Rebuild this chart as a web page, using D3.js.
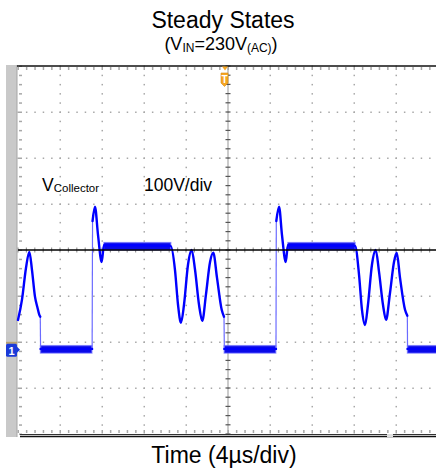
<!DOCTYPE html>
<html>
<head>
<meta charset="utf-8">
<script src="https://cdn.jsdelivr.net/npm/d3@7"></script>
<style>
  body { margin: 0; background: #fff; }
  svg { display: block; }
  text { font-family: "Liberation Sans", Arial, sans-serif; fill: #000; }
</style>
</head>
<body>
<svg id="scope" width="436" height="470"></svg>
<script>
// screen setup (scope graticule)
const usPerDiv = 4;
const voltsPerDiv = 100;
const xDivs = 10;
const yDivs = 8;
const groundDiv = -2.17; // channel 1 marker, in divisions from centre

// V_collector trace: time in µs (trigger = 0), volts
const traceTime = [
  -20, -19.62, -19.24, -18.92, -18.67, -18.38, -18.16, -17.97, -17.88, -17.85,
  -12.97, -12.94, -12.9, -12.67, -12.38, -12.03, -11.81, -5.46,
  -5.05, -4.76, -4.48, -4.19, -3.81, -3.46, -3.14, -2.76, -2.45, -2.1, -1.71, -1.4,
  -1.05, -0.6, -0.38, -0.35,
  4.54, 4.57, 4.6, 4.86, 5.14, 5.5, 5.71, 12.1,
  12.48, 12.76, 13.05, 13.33, 13.71, 14.07, 14.38, 14.76, 15.05, 15.43, 15.81, 16.07,
  16.38, 16.86, 17.08, 17.1, 20
];
const traceVolt = [
  65, 109, 178, 213, 174, 115, 93, 76, 72, 2,
  2, 2, 280, 311, 250, 191, 228, 226,
  174, 98, 59, 98, 185, 217, 174, 98, 63, 120, 191, 211,
  157, 87, 72, 2,
  2, 2, 280, 311, 250, 191, 228, 226,
  163, 87, 54, 98, 185, 217, 170, 98, 65, 124, 191, 211,
  157, 87, 74, 2, 2
];

// noisy flat parts of the trace (µs start/end, volts low/high)
const bandStart = [-17.85, -11.81, -0.35, 5.71, 17.1];
const bandEnd   = [-12.97, -5.46, 4.54, 12.1, 20];
const bandLow   = [-7, 217, -7, 217, -7];
const bandHigh  = [9, 233, 9, 233, 9];

const bands = bandStart.map((s, i) => ({ s: s, e: bandEnd[i], lo: bandLow[i], hi: bandHigh[i] }));
const trace = traceTime.map((t, i) => ({ t: t, v: traceVolt[i] }));

// split the trace at the fast switching edges (drawn thin, like on the scope)
const pieces = [[trace[0]]];
const edges = [];
for (let i = 1; i < trace.length; i++) {
    const a = trace[i - 1], b = trace[i];
    if (b.t - a.t < 0.05 && Math.abs(b.v - a.v) > 50) {
        edges.push([a, b]);
        pieces.push([b]);
    } else {
        pieces[pieces.length - 1].push(b);
    }
}

const svg = d3.select('#scope');
const plotLeft = 18, plotRight = 438, plotTop = 66, plotBottom = 434;

const x = d3.scaleLinear()
    .domain([-xDivs / 2 * usPerDiv, xDivs / 2 * usPerDiv])
    .range([plotLeft, plotRight]);
const y = d3.scaleLinear()
    .domain([(-yDivs / 2 - groundDiv) * voltsPerDiv, (yDivs / 2 - groundDiv) * voltsPerDiv])
    .range([plotBottom, plotTop]);

const xStep = (plotRight - plotLeft) / xDivs;
const yStep = (plotBottom - plotTop) / yDivs;

// left grey bar
svg.append('rect').attr('x', 6).attr('y', 65).attr('width', 11).attr('height', 372).attr('fill', '#c9c9c9');
svg.append('line').attr('x1', 17).attr('x2', 17).attr('y1', 65).attr('y2', 437).attr('stroke', '#a5a5a5');

// dotted grid
const grid = svg.append('g');
d3.range(1, xDivs).filter(k => k !== xDivs / 2).forEach(k => {
    grid.selectAll(null)
        .data(d3.range(0, yDivs * 5 + 1))
        .enter().append('rect')
        .attr('x', plotLeft + k * xStep - 0.5)
        .attr('y', j => plotTop + j * yStep / 5 - 0.5)
        .attr('width', 1.5).attr('height', 1.5)
        .attr('fill', '#a8a8a8');
});
d3.range(1, yDivs).filter(k => k !== yDivs / 2).forEach(k => {
    grid.selectAll(null)
        .data(d3.range(0, xDivs * 5 + 1))
        .enter().append('rect')
        .attr('x', j => plotLeft + j * xStep / 5 - 0.5)
        .attr('y', plotTop + k * yStep - 0.5)
        .attr('width', 1.5).attr('height', 1.5)
        .attr('fill', '#a8a8a8');
});

// border ticks
grid.selectAll(null).data(d3.range(0, xDivs * 5 + 1)).enter().append('rect')
    .attr('x', j => plotLeft + j * xStep / 5 - 0.5).attr('y', plotTop + 1).attr('width', 1.5).attr('height', 3).attr('fill', '#a8a8a8');
grid.selectAll(null).data(d3.range(0, xDivs * 5 + 1)).enter().append('rect')
    .attr('x', j => plotLeft + j * xStep / 5 - 0.5).attr('y', plotBottom - 4).attr('width', 1.5).attr('height', 3).attr('fill', '#a8a8a8');
grid.selectAll(null).data(d3.range(0, yDivs * 5 + 1)).enter().append('rect')
    .attr('x', plotLeft + 1).attr('y', j => plotTop + j * yStep / 5 - 0.5).attr('width', 3).attr('height', 1.5).attr('fill', '#a8a8a8');

// centre axes
const cx = x(0), cy = plotTop + yStep * yDivs / 2;
svg.append('line').attr('x1', cx).attr('x2', cx).attr('y1', plotTop).attr('y2', plotBottom).attr('stroke', '#a8a8a8').attr('stroke-width', 1.2);
svg.selectAll(null).data(d3.range(0, yDivs * 5 + 1)).enter().append('rect')
    .attr('x', cx - 2.5).attr('y', j => plotTop + j * yStep / 5 - 0.6).attr('width', 5).attr('height', 1.2).attr('fill', '#555');
svg.selectAll(null).data(d3.range(0, xDivs * 5 + 1)).enter().append('rect')
    .attr('x', j => plotLeft + j * xStep / 5 - 0.6).attr('y', cy - 2.5).attr('width', 1.2).attr('height', 5).attr('fill', '#999');

// noisy bands
svg.append('g').selectAll('rect').data(bands).enter().append('rect')
    .attr('x', d => x(d.s))
    .attr('y', d => y(d.hi))
    .attr('width', d => x(d.e) - x(d.s))
    .attr('height', d => y(d.lo) - y(d.hi))
    .attr('fill', '#0a0ae8')
    .attr('stroke', '#5a5aff')
    .attr('stroke-width', 1.5)
    .attr('stroke-opacity', 0.6);

// fast edges: thin, light
svg.append('g').selectAll('line').data(edges).enter().append('line')
    .attr('x1', d => x(d[0].t)).attr('y1', d => y(d[0].v))
    .attr('x2', d => x(d[1].t)).attr('y2', d => y(d[1].v))
    .attr('stroke', '#6b6bff')
    .attr('stroke-width', 1.2);

// trace
const line = d3.line()
    .x(d => x(d.t))
    .y(d => y(d.v))
    .curve(d3.curveMonotoneX);
svg.append('g').selectAll('path').data(pieces).enter().append('path')
    .attr('d', line)
    .attr('fill', 'none')
    .attr('stroke', '#0000ff')
    .attr('stroke-width', 2.4)
    .attr('stroke-linejoin', 'round')
    .attr('stroke-linecap', 'round');

// centre horizontal line on top of trace
svg.append('line').attr('x1', plotLeft).attr('x2', 436).attr('y1', cy).attr('y2', cy).attr('stroke', '#000').attr('stroke-width', 1.6);

// frame
svg.append('line').attr('x1', 17).attr('x2', 436).attr('y1', plotTop).attr('y2', plotTop).attr('stroke', '#111').attr('stroke-width', 1.5);
svg.append('line').attr('x1', 20).attr('x2', 436).attr('y1', plotBottom + 0.5).attr('y2', plotBottom + 0.5).attr('stroke', '#333').attr('stroke-width', 1);
svg.append('line').attr('x1', 20).attr('x2', 436).attr('y1', plotBottom + 2.5).attr('y2', plotBottom + 2.5).attr('stroke', '#111').attr('stroke-width', 1.5);
svg.append('rect').attr('x', 387).attr('y', plotBottom).attr('width', 6).attr('height', 3).attr('fill', '#ddd');

// trigger marker
svg.append('path').attr('d', `M${cx - 6},${plotTop + 0.5} L${cx},${plotTop + 0.5} L${cx - 3},${plotTop + 4.5} Z`).attr('fill', '#f5a623');
svg.append('path')
    .attr('d', `M${cx - 7},${plotTop + 7} h7 v10 l-3.5,3.5 l-3.5,-3.5 Z`)
    .attr('fill', '#f5a623').attr('stroke', '#d88a10').attr('stroke-width', 0.6);
svg.append('text').attr('x', cx - 3.5).attr('y', plotTop + 17).attr('text-anchor', 'middle')
    .attr('font-size', 10).attr('font-weight', 'bold').style('fill', '#fff').text('T');

// channel 1 ground marker
const gy = y(0);
svg.append('rect').attr('x', 6).attr('y', gy - 8).attr('width', 11).attr('height', 2).attr('fill', '#b8a070');
svg.append('rect').attr('x', 6).attr('y', gy - 6).attr('width', 11).attr('height', 13).attr('rx', 1.5).attr('fill', '#1a3ad8');
svg.append('path').attr('d', `M17,${gy - 3} L20,${gy} L17,${gy + 3} Z`).attr('fill', '#1a3ad8');
svg.append('text').attr('x', 11.5).attr('y', gy + 5).attr('text-anchor', 'middle')
    .attr('font-size', 11).attr('font-weight', 'bold').style('fill', '#fff').text('1');

// texts
svg.append('text').attr('x', 223).attr('y', 28).attr('text-anchor', 'middle').attr('font-size', 23).text('Steady States');

const sub = svg.append('text').attr('x', 221).attr('y', 50).attr('text-anchor', 'middle').attr('font-size', 18);
sub.append('tspan').text('(V');
sub.append('tspan').attr('font-size', 12).attr('dy', 2).text('IN');
sub.append('tspan').attr('dy', -2).text('=230V');
sub.append('tspan').attr('font-size', 12).attr('dy', 2).text('(AC)');
sub.append('tspan').attr('dy', -2).text(')');

const vc = svg.append('text').attr('x', 42).attr('y', 191).attr('font-size', 17.5);
vc.append('tspan').text('V');
vc.append('tspan').attr('font-size', 11.5).attr('dy', 1).text('Collector');

svg.append('text').attr('x', 144).attr('y', 191).attr('font-size', 17.5).text(voltsPerDiv + 'V/div');

svg.append('text').attr('x', 224).attr('y', 463).attr('text-anchor', 'middle').attr('font-size', 23)
    .text('Time (' + usPerDiv + 'µs/div)');
</script>
</body>
</html>
